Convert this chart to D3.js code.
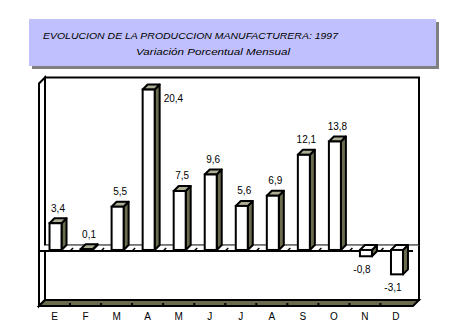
<!DOCTYPE html>
<html>
<head>
<meta charset="utf-8">
<script src="https://cdn.jsdelivr.net/npm/d3@7/dist/d3.min.js"></script>
<style>
  html, body { margin: 0; padding: 0; background: #fff; }
  svg { display: block; }
</style>
</head>
<body>
<svg id="chart" width="450" height="331"></svg>
<script>
// Monthly variation of manufacturing output, 1997 (percent)
const months = ["E", "F", "M", "A", "M", "J", "J", "A", "S", "O", "N", "D"];
const values = [3.4, 0.1, 5.5, 20.4, 7.5, 9.6, 5.6, 6.9, 12.1, 13.8, -0.8, -3.1];
const titleLines = ["EVOLUCION  DE LA  PRODUCCION  MANUFACTURERA: 1997", "Variación  Porcentual  Mensual"];
const valueDomain = [-7, 21.3];

const FONT = "'Liberation Sans', Arial, sans-serif";
const SIDE = "#6b6b4e";   // dark olive for side faces and floor
const TOP = "#adad94";    // light khaki for top faces

// decimal comma formatting, plain hyphen for negatives
const fmt = d3.formatLocale({ decimal: ",", thousands: ".", grouping: [3], currency: ["", ""], minus: "-" }).format(".1f");

const svg = d3.select("#chart");

// ---- title box with drop shadow ----
const tb = { x: 29, y: 19, w: 407, h: 47 };
svg.append("rect").attr("x", tb.x + 3).attr("y", tb.y + 3).attr("width", tb.w).attr("height", tb.h)
  .attr("fill", "#808080");
svg.append("rect").attr("x", tb.x).attr("y", tb.y).attr("width", tb.w).attr("height", tb.h)
  .attr("fill", "#c0c0ff");
svg.append("text").attr("x", 43).attr("y", 39)
  .attr("font-family", FONT).attr("font-style", "italic").attr("font-size", 9.5)
  .attr("textLength", 295).attr("lengthAdjust", "spacingAndGlyphs")
  .text(titleLines[0]);
svg.append("text").attr("x", 136).attr("y", 55)
  .attr("font-family", FONT).attr("font-style", "italic").attr("font-size", 9.5)
  .attr("textLength", 154).attr("lengthAdjust", "spacingAndGlyphs")
  .text(titleLines[1]);

// ---- 3D plot frame ----
const P = { left: 39, right: 413, top: 83.5, bottom: 306 };
const DX = 6, DY = 6;      // depth of the chart box

const x = d3.scaleBand().domain(d3.range(months.length)).range([P.left, 411.5]).paddingInner(0).paddingOuter(0);
const y = d3.scaleLinear().domain(valueDomain).range([P.bottom, P.top]);
const y0 = y(0);

const line = d3.line();
const poly = pts => line(pts) + "Z";

// back wall
svg.append("rect").attr("x", P.left + DX).attr("y", P.top - DY)
  .attr("width", P.right - P.left).attr("height", P.bottom - P.top)
  .attr("fill", "#fff").attr("stroke", "#000").attr("stroke-width", 2);

// left side wall
svg.append("path")
  .attr("d", poly([[P.left, P.top], [P.left + DX, P.top - DY], [P.left + DX, P.bottom - DY], [P.left, P.bottom]]))
  .attr("fill", "#fff").attr("stroke", "#000").attr("stroke-width", 2).attr("stroke-linejoin", "miter");

// floor
svg.append("path")
  .attr("d", poly([[P.left, P.bottom], [P.left + DX, P.bottom - DY], [P.right + DX, P.bottom - DY], [P.right, P.bottom]]))
  .attr("fill", SIDE).attr("stroke", "#000").attr("stroke-width", 2);

// category tick marks on the floor edge
const bounds = d3.range(1, months.length).map(i => x(i));
svg.append("g").selectAll("line").data(bounds).join("line")
  .attr("x1", d => d).attr("x2", d => d)
  .attr("y1", P.bottom - 3).attr("y2", P.bottom)
  .attr("stroke", "#000").attr("stroke-width", 2);

// zero plane
svg.append("path")
  .attr("d", poly([[P.left, y0], [P.left + DX, y0 - DY], [P.right + DX, y0 - DY], [P.right, y0]]))
  .attr("fill", "#fff").attr("stroke", "none");
svg.append("line").attr("x1", P.left + DX).attr("x2", P.right + DX).attr("y1", y0 - DY).attr("y2", y0 - DY)
  .attr("stroke", "#000").attr("stroke-width", 1);
svg.append("line").attr("x1", P.left).attr("x2", P.right).attr("y1", y0).attr("y2", y0)
  .attr("stroke", "#000").attr("stroke-width", 2);
svg.append("g").selectAll("line").data(bounds).join("line")
  .attr("x1", d => d).attr("x2", d => d + 3)
  .attr("y1", y0).attr("y2", y0 - 3)
  .attr("stroke", "#000").attr("stroke-width", 1.5);

// ---- bars ----
const BD = 5;              // bar depth
const OFF = 1;             // bars sit slightly behind the front plane
const HALF = 6;

const bars = svg.append("g").selectAll("g").data(values).join("g");
bars.each(function (v, i) {
  const g = d3.select(this);
  const cx = x(i) + x.bandwidth() / 2 + OFF;
  const x0 = cx - HALF, x1 = cx + HALF;
  const yt = Math.min(y(v), y0) - OFF, yb = Math.max(y(v), y0) - OFF;
  g.append("path")
    .attr("d", poly([[x1, yt], [x1 + BD, yt - BD], [x1 + BD, yb - BD], [x1, yb]]))
    .attr("fill", SIDE).attr("stroke", "#000").attr("stroke-width", 2).attr("stroke-linejoin", "round");
  g.append("path")
    .attr("d", poly([[x0, yt], [x0 + BD, yt - BD], [x1 + BD, yt - BD], [x1, yt]]))
    .attr("fill", v >= 0 ? TOP : "#fff").attr("stroke", "#000").attr("stroke-width", 2).attr("stroke-linejoin", "round");
  g.append("rect").attr("x", x0).attr("y", yt).attr("width", x1 - x0).attr("height", Math.max(yb - yt, 0.5))
    .attr("fill", "#fff").attr("stroke", "#000").attr("stroke-width", 2);
});

// ---- value labels ----
svg.append("g").selectAll("text").data(values).join("text")
  .attr("font-family", FONT).attr("font-size", 10).attr("fill", "#000")
  .each(function (v, i) {
    const t = d3.select(this);
    const cx = x(i) + x.bandwidth() / 2 + OFF;
    const yt = Math.min(y(v), y0) - OFF, yb = Math.max(y(v), y0) - OFF;
    if (v < 0) {
      t.attr("x", cx - 4).attr("y", yb + 16.5).attr("text-anchor", "middle");
    } else if (yt - 20 < P.top - DY) {
      t.attr("x", cx + HALF + BD + 4).attr("y", yt + 12.5).attr("text-anchor", "start");
    } else {
      t.attr("x", cx + 2.5).attr("y", yt - 11.5).attr("text-anchor", "middle");
    }
  })
  .text(v => fmt(v));

// ---- category axis ----
const axis = svg.append("g").attr("transform", `translate(0,${P.bottom + 7})`)
  .call(d3.axisBottom(x).tickSize(0).tickPadding(0).tickFormat(i => months[i]));
axis.select(".domain").remove();
axis.selectAll("text").attr("font-family", FONT).attr("font-size", 10).attr("fill", "#000");
</script>
</body>
</html>
